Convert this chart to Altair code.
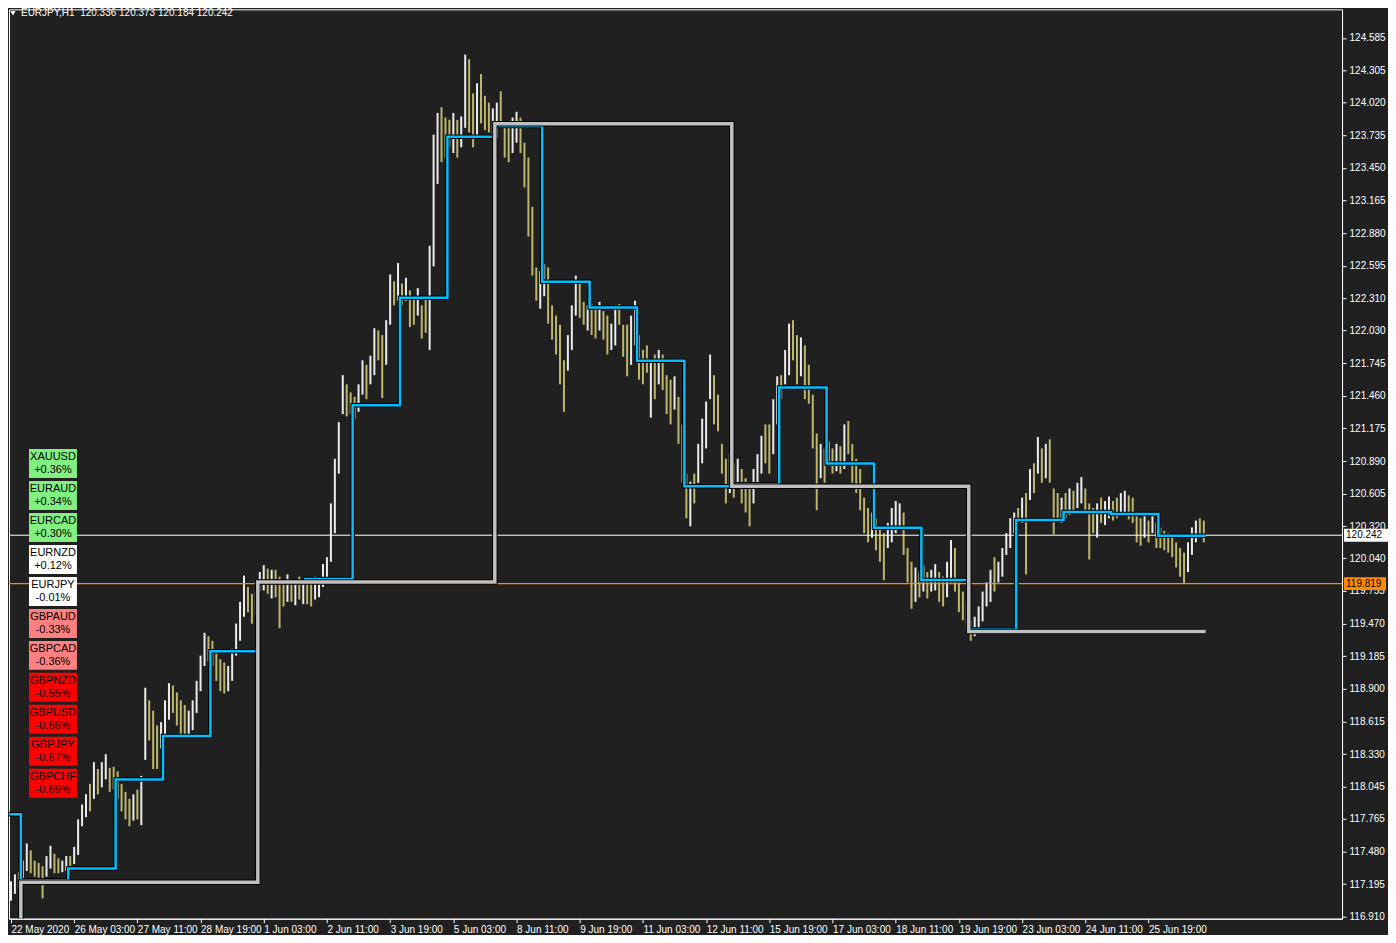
import altair as alt
import pandas as pd

# ---------------- data ----------------
symbol_title = "EURJPY,H1"
title_ohlc = [120.336, 120.373, 120.184, 120.242]

# 2-hour bars, hour index counted from 25 May 2020 00:00 (trading hours only)
bar_hour = list(range(-5, 600, 2))
bar_high = [
    117.22, 117.28, 117.30, 117.40, 117.55, 117.49, 117.40, 117.38, 117.35, 117.44,
    117.53, 117.46, 117.42, 117.40, 117.44, 117.44, 117.52, 117.76, 117.89, 117.98,
    118.07, 118.26, 118.20, 118.26, 118.33, 118.21, 118.22, 118.18, 118.07, 118.00,
    117.94, 117.98, 118.02, 118.14, 118.91, 118.80, 118.71, 118.58, 118.61, 118.80,
    118.95, 118.93, 118.87, 118.80, 118.76, 118.71, 118.80, 118.97, 119.19, 119.39,
    119.36, 119.32, 119.23, 119.16, 119.13, 119.10, 119.25, 119.47, 119.66, 119.89,
    119.79, 119.73, 119.76, 119.92, 119.98, 119.95, 119.94, 119.94, 119.88, 119.83,
    119.90, 119.86, 119.85, 119.88, 119.85, 119.86, 119.83, 119.88, 119.85, 119.99,
    120.05, 120.52, 120.91, 121.23, 121.64, 121.56, 121.49, 121.45, 121.56, 121.77,
    121.73, 121.81, 122.05, 122.03, 121.99, 122.12, 122.52, 122.46, 122.62, 122.44,
    122.49, 122.38, 122.33, 122.40, 122.25, 122.33, 122.77, 123.74, 123.93, 123.98,
    123.89, 123.87, 123.93, 123.87, 123.90, 124.44, 124.40, 124.10, 124.19, 124.27,
    124.08, 124.02, 123.97, 124.02, 124.12, 123.84, 123.80, 123.89, 123.94, 123.89,
    123.67, 123.54, 123.11, 122.58, 122.55, 122.61, 122.58, 122.25, 122.16, 122.08,
    121.77, 121.99, 122.25, 122.51, 122.46, 122.28, 122.25, 122.26, 122.23, 122.28,
    122.20, 122.16, 122.09, 122.25, 122.26, 122.08, 122.08, 122.16, 122.29, 121.99,
    121.86, 121.90, 121.77, 121.82, 121.86, 121.82, 121.64, 121.60, 121.63, 121.45,
    121.21, 120.78, 120.71, 120.78, 121.04, 121.26, 121.41, 121.82, 121.64, 121.47,
    121.04, 120.91, 120.95, 120.87, 120.91, 120.82, 120.74, 120.70, 120.82, 120.95,
    121.11, 121.21, 121.21, 121.43, 121.63, 121.64, 121.86, 122.09, 122.12, 121.99,
    121.97, 121.90, 121.73, 121.47, 121.13, 121.04, 121.00, 121.06, 121.00, 121.04,
    121.02, 121.21, 121.24, 121.04, 120.91, 120.82, 120.57, 120.48, 120.44, 120.39,
    120.31, 120.26, 120.35, 120.48, 120.54, 120.52, 120.44, 120.13, 120.01, 119.96,
    119.92, 119.98, 119.92, 119.94, 119.99, 119.92, 119.88, 120.01, 120.20, 120.13,
    119.83, 119.75, 119.66, 119.50, 119.53, 119.62, 119.75, 119.83, 119.94, 120.05,
    120.01, 120.13, 120.26, 120.39, 120.44, 120.48, 120.57, 120.61, 120.82, 120.87,
    121.10, 121.00, 121.04, 121.08, 120.65, 120.61, 120.57, 120.61, 120.65, 120.63,
    120.70, 120.75, 120.65, 120.52, 120.48, 120.52, 120.57, 120.54, 120.58, 120.54,
    120.57, 120.61, 120.63, 120.59, 120.57, 120.44, 120.39, 120.42, 120.37, 120.44,
    120.35, 120.31, 120.28, 120.26, 120.22, 120.18, 120.13, 120.09, 120.18, 120.31,
    120.37, 120.39, 120.37,
]
bar_low = [
    117.05, 117.11, 117.16, 117.20, 117.31, 117.29, 117.26, 117.25, 117.07, 117.26,
    117.33, 117.29, 117.29, 117.30, 117.31, 117.35, 117.37, 117.45, 117.70, 117.78,
    117.83, 117.94, 117.98, 118.04, 118.11, 118.00, 118.02, 117.94, 117.83, 117.76,
    117.70, 117.75, 117.76, 117.71, 118.28, 118.45, 118.20, 118.20, 118.38, 118.50,
    118.63, 118.69, 118.58, 118.50, 118.50, 118.49, 118.54, 118.69, 118.88, 119.10,
    119.14, 119.10, 118.97, 118.88, 118.86, 118.88, 118.97, 119.19, 119.32, 119.53,
    119.57, 119.47, 119.53, 119.75, 119.76, 119.73, 119.69, 119.70, 119.43, 119.62,
    119.66, 119.66, 119.63, 119.68, 119.64, 119.64, 119.62, 119.68, 119.70, 119.79,
    119.85, 120.01, 120.26, 120.78, 121.30, 121.28, 121.30, 121.26, 121.32, 121.47,
    121.43, 121.56, 121.64, 121.77, 121.44, 121.73, 122.08, 122.25, 122.29, 122.25,
    122.29, 122.06, 122.08, 122.16, 121.96, 122.01, 121.86, 122.59, 123.31, 123.50,
    123.54, 123.63, 123.58, 123.54, 123.63, 123.80, 123.76, 123.63, 123.71, 123.84,
    123.78, 123.76, 123.71, 123.71, 123.80, 123.54, 123.50, 123.58, 123.67, 123.58,
    123.28, 122.85, 122.51, 122.29, 122.22, 122.33, 122.09, 121.95, 121.82, 121.56,
    121.32, 121.68, 121.86, 122.16, 122.14, 122.08, 122.03, 121.99, 121.96, 122.03,
    121.95, 121.82, 121.86, 121.90, 122.08, 121.80, 121.63, 121.73, 121.90, 121.60,
    121.56, 121.66, 121.27, 121.43, 121.56, 121.51, 121.30, 121.21, 121.34, 121.04,
    120.70, 120.39, 120.32, 120.52, 120.70, 120.87, 121.00, 121.43, 121.21, 121.15,
    120.78, 120.52, 120.61, 120.57, 120.65, 120.52, 120.44, 120.32, 120.52, 120.65,
    120.78, 120.87, 120.78, 120.95, 121.21, 121.43, 121.56, 121.64, 121.77, 121.56,
    121.63, 121.43, 121.39, 121.00, 120.46, 120.74, 120.70, 120.85, 120.78, 120.80,
    120.78, 120.82, 120.95, 120.70, 120.61, 120.46, 120.26, 120.18, 120.22, 120.11,
    120.01, 119.85, 120.13, 120.18, 120.26, 120.31, 120.07, 119.83, 119.60, 119.66,
    119.70, 119.75, 119.69, 119.75, 119.76, 119.66, 119.62, 119.70, 119.83, 119.75,
    119.57, 119.50, 119.43, 119.32, 119.36, 119.40, 119.49, 119.62, 119.66, 119.75,
    119.83, 119.88, 120.07, 120.13, 120.26, 120.35, 120.35, 119.90, 120.55, 120.61,
    120.78, 120.70, 120.74, 120.70, 120.25, 120.39, 120.35, 120.39, 120.42, 120.44,
    120.48, 120.52, 120.44, 120.03, 120.26, 120.22, 120.35, 120.33, 120.39, 120.37,
    120.39, 120.44, 120.42, 120.38, 120.35, 120.18, 120.15, 120.22, 120.18, 120.26,
    120.13, 120.13, 120.11, 120.09, 120.05, 119.96, 119.88, 119.82, 119.92, 120.07,
    120.18, 120.22, 120.18,
]
bar_dir = list(
    "UUDUUDDDDU" "UDDUUDUUUU" "DUDUUDDDDD" "DUDUUDDDUU" "UDDDDUUUUU"
    "DDDDDUUUUU" "DDUUUDUDDD" "UDUDUDDUUU" "UUUUUDDDUU" "DUUDDUUDUD"
    "UDDUDDUUUD" "DDUDUUDDUD" "DDUUDDDUUD" "DDDDUUDDDD" "DUUUDDUDDU"
    "DDUUDDDUUD" "DDUDUDDDUD" "DDUDUUUUDD" "DDUDUDDDUU" "UDDUUDUUDD"
    "UDDDDUDUDU" "DUDDDDDDUD" "DDUUUUDDDU" "DUDUUDDUUD" "DDDDUUUUUD"
    "UUUUUDUDUD" "UDUDDDUDUD" "UUDDDUDUUD" "DUUDDDDUDU" "DDDDDDDDUU"
    "UDD"
)

# daily (blue) and weekly (grey) step levels
daily_hour = [-6, 0, 24, 48, 72, 96, 120, 144, 168, 192, 216, 240, 264, 288,
              312, 336, 360, 384, 408, 432, 456, 480, 504, 528, 552, 576, 600]
daily_level = [117.806, 117.229, 117.332, 118.108, 118.488, 119.229, 119.833,
               119.859, 121.377, 122.317, 123.723, 123.817, 122.455, 122.231,
               121.765, 120.670, 120.687, 121.532, 120.868, 120.307, 119.850,
               119.419, 120.376, 120.445, 120.428, 120.238, 120.238]
weekly_hour = [-6, 0, 120, 240, 360, 480, 600]
weekly_level = [116.50, 117.211, 119.833, 123.835, 120.670, 119.402, 119.402]

bid_price = 120.242
level_price = 119.819

# axis ticks
y_ticks = [124.585, 124.305, 124.020, 123.735, 123.450, 123.165, 122.880,
           122.595, 122.310, 122.030, 121.745, 121.460, 121.175, 120.890,
           120.605, 120.320, 120.040, 119.755, 119.470, 119.185, 118.900,
           118.615, 118.330, 118.045, 117.765, 117.480, 117.195, 116.910]
x_tick_hours = [-5, 27, 59, 91, 123, 155, 187, 219, 251, 283, 315, 347, 379,
                411, 443, 475, 507, 539, 571]
x_tick_labels = ["22 May 2020", "26 May 03:00", "27 May 11:00", "28 May 19:00",
                 "1 Jun 03:00", "2 Jun 11:00", "3 Jun 19:00", "5 Jun 03:00",
                 "8 Jun 11:00", "9 Jun 19:00", "11 Jun 03:00", "12 Jun 11:00",
                 "15 Jun 19:00", "17 Jun 03:00", "18 Jun 11:00", "19 Jun 19:00",
                 "23 Jun 03:00", "24 Jun 11:00", "25 Jun 19:00"]

# strength panel
panel_symbols = ["XAUUSD", "EURAUD", "EURCAD", "EURNZD", "EURJPY", "GBPAUD",
                 "GBPCAD", "GBPNZD", "GBPUSD", "GBPJPY", "GBPCHF"]
panel_pct = [0.36, 0.34, 0.30, 0.12, -0.01, -0.33, -0.36, -0.55, -0.66, -0.67, -0.69]

# ---------------- chart ----------------
W, H = 1334, 910
BG = "#202020"
FONT = "Liberation Sans"

x_scale = alt.Scale(domain=[-6, 669], nice=False, zero=False)
y_scale = alt.Scale(domain=[116.893, 124.835], nice=False, zero=False)

label_expr = "[" + ",".join("'%s'" % s for s in x_tick_labels) + "][indexof([" + \
    ",".join(str(h) for h in x_tick_hours) + "], datum.value)]"

x_axis = alt.Axis(values=x_tick_hours, labelExpr=label_expr, title=None, grid=False,
                  domainColor="#ffffff", tickColor="#ffffff", tickSize=4,
                  labelColor="#ffffff", labelFont=FONT, labelFontSize=10,
                  labelAlign="left", labelBaseline="top", labelPadding=2,
                  labelFlush=False, labelOverlap=False)
y_axis = alt.Axis(values=y_ticks, format=".3f", orient="right", title=None, grid=False,
                  domainColor="#ffffff", tickColor="#ffffff", tickSize=4,
                  labelColor="#ffffff", labelFont=FONT, labelFontSize=10,
                  labelPadding=3, labelFlush=False, labelOverlap=False)

bars_df = pd.DataFrame({"hour": bar_hour, "high": bar_high, "low": bar_low, "dir": bar_dir})
bars = alt.Chart(bars_df).mark_rule(strokeWidth=2).encode(
    x=alt.X("hour:Q", scale=x_scale, axis=x_axis),
    y=alt.Y("low:Q", scale=y_scale, axis=y_axis),
    y2="high:Q",
    color=alt.Color("dir:N", scale=alt.Scale(domain=["U", "D"], range=["#ececec", "#bdb76b"]),
                    legend=None),
)

price_df = pd.DataFrame({"price": [bid_price]})
level_df = pd.DataFrame({"price": [level_price]})
bid_line = alt.Chart(price_df).mark_rule(strokeWidth=1, color="#ffffff").encode(
    y=alt.Y("price:Q", scale=y_scale, axis=None))
level_line = alt.Chart(level_df).mark_rule(strokeWidth=1.3, color="#ff8c00").encode(
    y=alt.Y("price:Q", scale=y_scale, axis=None))

daily_df = pd.DataFrame({"hour": daily_hour, "level": daily_level})
weekly_df = pd.DataFrame({"hour": weekly_hour, "level": weekly_level})


def step(df, color, width):
    return alt.Chart(df).mark_line(interpolate="step-after", color=color, strokeWidth=width,
                                   clip=True).encode(
        x=alt.X("hour:Q", scale=x_scale, axis=None),
        y=alt.Y("level:Q", scale=y_scale, axis=None),
    )


blue_o = step(daily_df, "#000000", 4.5)
blue = step(daily_df, "#00bfff", 2.5)
gray_o = step(weekly_df, "#000000", 5.5)
gray = step(weekly_df, "#c0c0c0", 3.5)

box_path = "M-1,-0.3L1,-0.3L1,0.3L-1,0.3Z"
bid_box = alt.Chart(price_df).mark_point(shape=box_path, size=1936, filled=True, opacity=1,
                                         color="#ffffff", clip=False).encode(
    x=alt.value(W + 24), y=alt.Y("price:Q", scale=y_scale, axis=None))
bid_txt = alt.Chart(price_df).mark_text(align="left", baseline="middle", font=FONT, fontSize=10,
                                        color="#000000", clip=False).encode(
    x=alt.value(W + 4), y=alt.Y("price:Q", scale=y_scale, axis=None),
    text=alt.Text("price:Q", format=".3f"))
level_box = alt.Chart(level_df).mark_point(shape=box_path, size=1764, filled=True, opacity=1,
                                           color="#ff8c00", clip=False).encode(
    x=alt.value(W + 23), y=alt.Y("price:Q", scale=y_scale, axis=None))
level_txt = alt.Chart(level_df).mark_text(align="left", baseline="middle", font=FONT, fontSize=10,
                                          color="#000000", clip=False).encode(
    x=alt.value(W + 4), y=alt.Y("price:Q", scale=y_scale, axis=None),
    text=alt.Text("price:Q", format=".3f"))

panel_df = pd.DataFrame({
    "symbol": panel_symbols,
    "pct": panel_pct,
    "label": ["%+.2f%%" % p for p in panel_pct],
    "idx": list(range(len(panel_symbols))),
})
panel_base = alt.Chart(panel_df).transform_calculate(
    top="440 + 32 * datum.idx",
    bottom="469 + 32 * datum.idx",
    l1="448 + 32 * datum.idx",
    l2="461 + 32 * datum.idx",
)
panel_rect = panel_base.mark_rect().encode(
    x=alt.value(20), x2=alt.value(68),
    y=alt.Y("top:Q", scale=None, axis=None), y2="bottom:Q",
    fill=alt.Fill("pct:Q", scale=alt.Scale(type="threshold", domain=[-0.5, -0.1, 0.2],
                                            range=["#ff0000", "#ff8080", "#ffffff", "#80f080"]),
                  legend=None),
)
panel_t1 = panel_base.mark_text(font=FONT, fontSize=11, color="#000000", baseline="middle",
                                align="center").encode(
    x=alt.value(44), y=alt.Y("l1:Q", scale=None, axis=None), text="symbol:N")
panel_t2 = panel_base.mark_text(font=FONT, fontSize=11, color="#000000", baseline="middle",
                                align="center").encode(
    x=alt.value(44), y=alt.Y("l2:Q", scale=None, axis=None), text="label:N")

title_df = pd.DataFrame({"t": [symbol_title + "\u00a0\u00a0" + " ".join("%.3f" % v for v in title_ohlc)]})
title_tri = alt.Chart(title_df).mark_point(shape="triangle-down", size=28, filled=True, opacity=1,
                                           color="#ffffff").encode(
    x=alt.value(4), y=alt.value(4))
title_txt = alt.Chart(title_df).mark_text(align="left", baseline="middle", font=FONT, fontSize=10,
                                          color="#ffffff").encode(
    x=alt.value(12), y=alt.value(4), text="t:N")

chart = alt.layer(
    bars, bid_line, level_line, blue_o, blue, gray_o, gray,
    bid_box, bid_txt, level_box, level_txt,
    panel_rect, panel_t1, panel_t2, title_tri, title_txt,
).resolve_axis(
    x="independent", y="independent",
).properties(
    width=W, height=H, background=BG, padding=0,
).configure_view(stroke="#ffffff", strokeWidth=1, fill=BG)

chart.save("out.html", embed_options={"renderer": "svg", "actions": False})
